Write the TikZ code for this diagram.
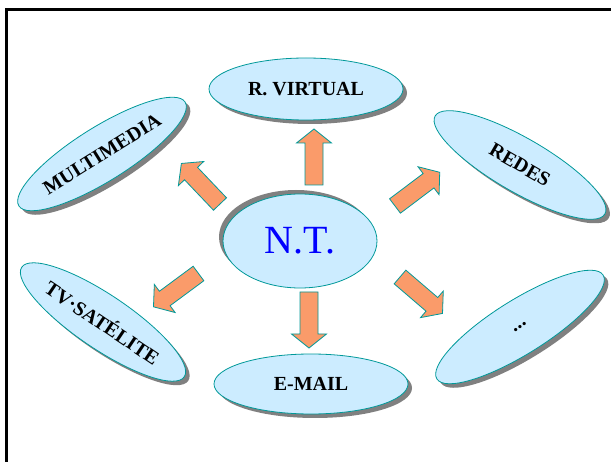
\documentclass[tikz,border=0pt]{standalone}
\usepackage{fontspec}
\setmainfont{Liberation Serif}
\usetikzlibrary{shapes.geometric}
\definecolor{bubblefill}{RGB}{204,236,255}
\definecolor{tealline}{RGB}{0,153,153}
\definecolor{arrowfill}{RGB}{250,155,106}
\definecolor{shadowgray}{RGB}{128,128,128}
\definecolor{ntblue}{RGB}{0,0,255}
\begin{document}
\begin{tikzpicture}[x=1pt,y=-1pt,
  bubble/.style={ellipse, draw=tealline, fill=bubblefill, line width=0.8pt, inner sep=0pt,
    font=\bfseries\fontsize{20}{24}\selectfont},
  sidebubble/.style={bubble, minimum width=196pt, minimum height=54pt},
  shadowfill/.style={fill=shadowgray},
  blockarrow/.style={draw=tealline, fill=arrowfill, line width=0.8pt, line join=miter},
  barrow/.pic={\path[blockarrow] (0,-9) -- (42,-9) -- (42,-17.5) -- (56,0) -- (42,17.5) -- (42,9) -- (0,9) -- cycle;}]
\useasboundingbox (0,0) rectangle (611,462);
\clip (0,0) rectangle (611,462);
\fill[white] (0,0) rectangle (611,462);
% frame
\draw[line width=3pt, black] (6,480) -- (6,9.5) -- (640,9.5);

% shadows
\fill[shadowfill] (310,93) ellipse [x radius=97pt, y radius=31pt];
\fill[shadowfill] (315,388) ellipse [x radius=97pt, y radius=30pt];
\fill[shadowfill] (296,237) ellipse [x radius=77pt, y radius=47pt];
\fill[shadowfill, rotate around={32:(106,158)}] (106,158) ellipse [x radius=98pt, y radius=27pt];
\fill[shadowfill, rotate around={-30:(524,169)}] (524,169) ellipse [x radius=98pt, y radius=27pt];
\fill[shadowfill, rotate around={-34:(107,326)}] (107,326) ellipse [x radius=98pt, y radius=27pt];
\fill[shadowfill, rotate around={32:(524,331)}] (524,331) ellipse [x radius=98pt, y radius=27pt];

% bubbles
\node[bubble, minimum width=154pt, minimum height=94pt,
  font=\fontsize{40}{44}\selectfont, text=ntblue] (nt) at (300,241) {N.T.};
\node[bubble, minimum width=194pt, minimum height=62pt] (rv) at (306,89) {R. VIRTUAL};
\node[bubble, minimum width=194pt, minimum height=60pt] (em) at (311,384) {E-MAIL};
\node[sidebubble, rotate=32] (mm) at (102,154) {MULTIMEDIA};
\node[sidebubble, rotate=-30] (rd) at (520,165) {REDES};
\node[sidebubble, rotate=-34] (tv) at (103,322) {TV·SATÉLITE};
\node[sidebubble, rotate=32] (dt) at (520,327) {...};

% block arrows
\pic[rotate=90] at (314,185) {barrow};
\pic[rotate=-90] at (309,292) {barrow};
\pic[rotate=133.6] at (220,204) {barrow};
\pic[rotate=37] at (395,206) {barrow};
\pic[rotate=216.5] at (198.5,273.5) {barrow};
\pic[rotate=-40.6] at (400,277) {barrow};
\end{tikzpicture}
\end{document}
